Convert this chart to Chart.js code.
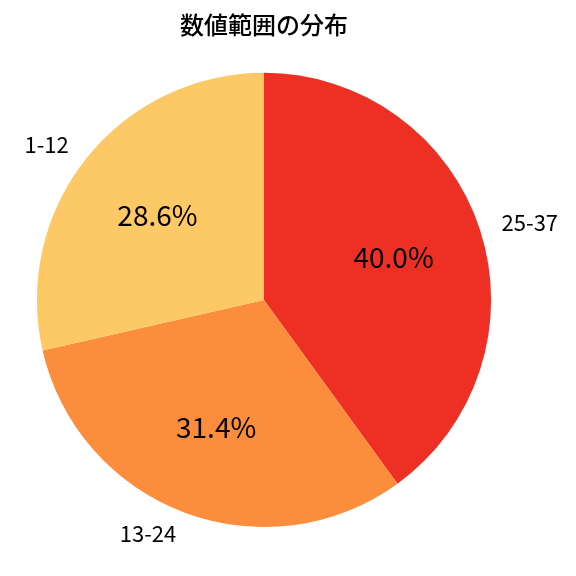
<!DOCTYPE html>
<html>
<head>
<meta charset="utf-8">
<script src="https://cdn.jsdelivr.net/npm/chart.js@4"></script>
<style>
  html, body { margin: 0; padding: 0; background: #fff; }
  #wrap { width: 576px; height: 576px; }
</style>
</head>
<body>
<div id="wrap"><canvas id="chart_one" width="576" height="576"></canvas></div>
<script>
var chartTitle = "数値範囲の分布";
var rangeLabels = ["25-37", "13-24", "1-12"];
var rangeCounts = [14, 11, 10];
var sliceColors = ["rgb(238,47,35)", "rgb(252,141,60)", "rgb(253,200,102)"];

var FONT = "'Noto Sans CJK JP', 'Noto Sans', sans-serif";

// draws the category names outside and percentages inside, like matplotlib
var pieLabels = {
	id: "pieLabels",
	afterDatasetsDraw: (chart) => {
		var ctx = chart.ctx;
		var meta = chart.getDatasetMeta(0);
		var data = chart.data.datasets[0].data;
		var total = data.reduce((acc, v) => acc + v, 0);
		ctx.save();
		ctx.fillStyle = "#000";
		ctx.textBaseline = "middle";
		meta.data.forEach((arc, i) => {
			var p = arc.getProps(["x", "y", "startAngle", "endAngle", "outerRadius"], true);
			var mid = (p.startAngle + p.endAngle) / 2;
			var cx = Math.cos(mid), cy = Math.sin(mid);

			ctx.font = "22px " + FONT;
			ctx.textAlign = cx < 0 ? "right" : "left";
			ctx.fillText(chart.data.labels[i], p.x + cx * p.outerRadius * 1.1, p.y + cy * p.outerRadius * 1.1);

			ctx.font = "28px " + FONT;
			ctx.textAlign = "center";
			var pct = (data[i] / total * 100).toFixed(1) + "%";
			ctx.fillText(pct, p.x + cx * p.outerRadius * 0.6, p.y + cy * p.outerRadius * 0.6);
		});
		ctx.restore();
	}
};

var ctx_one = document.getElementById("chart_one").getContext("2d");
var chart_one = new Chart(ctx_one, {
	type: "pie",
	data: {
		labels: rangeLabels,
		datasets: [
			{
				data: rangeCounts,
				backgroundColor: sliceColors,
				borderWidth: 0
			}
		]
	},
	options: {
		responsive: false,
		animation: false,
		layout: {
			padding: { top: 0, bottom: 49, left: 30, right: 78 }
		},
		plugins: {
			legend: { display: false },
			tooltip: { enabled: false },
			title: {
				display: true,
				text: chartTitle,
				color: "#000",
				font: { family: FONT, size: 24, weight: "500" },
				padding: { top: 10, bottom: 34 }
			}
		}
	},
	plugins: [pieLabels]
});
</script>
</body>
</html>
